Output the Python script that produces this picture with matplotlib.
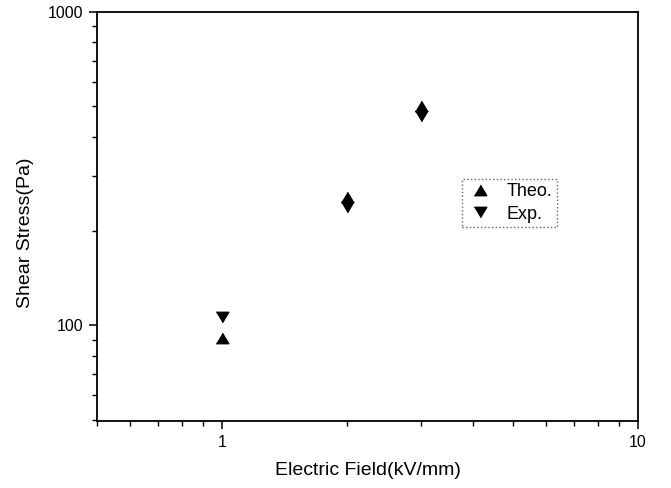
import matplotlib
matplotlib.use("Agg")
import matplotlib.pyplot as plt
from matplotlib.ticker import LogLocator, FixedLocator, FixedFormatter, NullFormatter

plt.rcParams['font.family'] = ['Liberation Sans', 'DejaVu Sans']

# field strength (kV/mm) and shear stress (Pa)
field = [1, 2, 3]
stress_theo = [91, 256, 500]
stress_exp = [106, 238, 464]

x_ticks = [1, 10]
x_ticklabels = ['1', '10']
y_ticks = [100, 1000]
y_ticklabels = ['100', '1000']

# wider-than-tall triangles
tri_up = [(-0.6, -0.5), (0.6, -0.5), (0.0, 0.5)]
tri_down = [(-0.6, 0.5), (0.6, 0.5), (0.0, -0.5)]

fig = plt.figure(figsize=(6.71, 4.88), dpi=100)
ax = fig.add_axes([0.1446, 0.1373, 0.8064, 0.8381])

ax.plot(field, stress_theo, linestyle='none', marker=tri_up, markersize=9,
        color='black', label='Theo.')
ax.plot(field, stress_exp, linestyle='none', marker=tri_down, markersize=9,
        color='black', label='Exp.')

ax.set_xscale('log')
ax.set_yscale('log')
ax.set_xlim(0.5, 10)
ax.set_ylim(49.5, 1000)

ax.xaxis.set_major_locator(FixedLocator(x_ticks))
ax.xaxis.set_major_formatter(FixedFormatter(x_ticklabels))
ax.xaxis.set_minor_locator(LogLocator(base=10, subs=range(2, 10)))
ax.xaxis.set_minor_formatter(NullFormatter())
ax.yaxis.set_major_locator(FixedLocator(y_ticks))
ax.yaxis.set_major_formatter(FixedFormatter(y_ticklabels))
ax.yaxis.set_minor_locator(LogLocator(base=10, subs=range(2, 10)))
ax.yaxis.set_minor_formatter(NullFormatter())

ax.tick_params(which='major', direction='out', length=6, width=1.1,
               labelsize=11.5, pad=4)
ax.tick_params(which='minor', direction='out', length=3.5, width=1.0)
for sp in ax.spines.values():
    sp.set_linewidth(1.3)

ax.set_xlabel('Electric Field(kV/mm)', fontsize=14)
ax.set_ylabel('Shear Stress(Pa)', fontsize=14)
ax.xaxis.set_label_coords(0.5, -0.10)
ax.xaxis.label.set_va('top')
ax.yaxis.set_label_coords(-0.117, 0.46)

leg = ax.legend(loc='upper left', bbox_to_anchor=(0.675, 0.592),
                borderaxespad=0, fontsize=13, handlelength=1.5,
                handletextpad=0.7, borderpad=0.25, labelspacing=0.3,
                fancybox=False, framealpha=1)
frame = leg.get_frame()
frame.set_edgecolor('#666666')
frame.set_linestyle(':')
frame.set_linewidth(1.0)

fig.savefig('out.png', dpi=100)
